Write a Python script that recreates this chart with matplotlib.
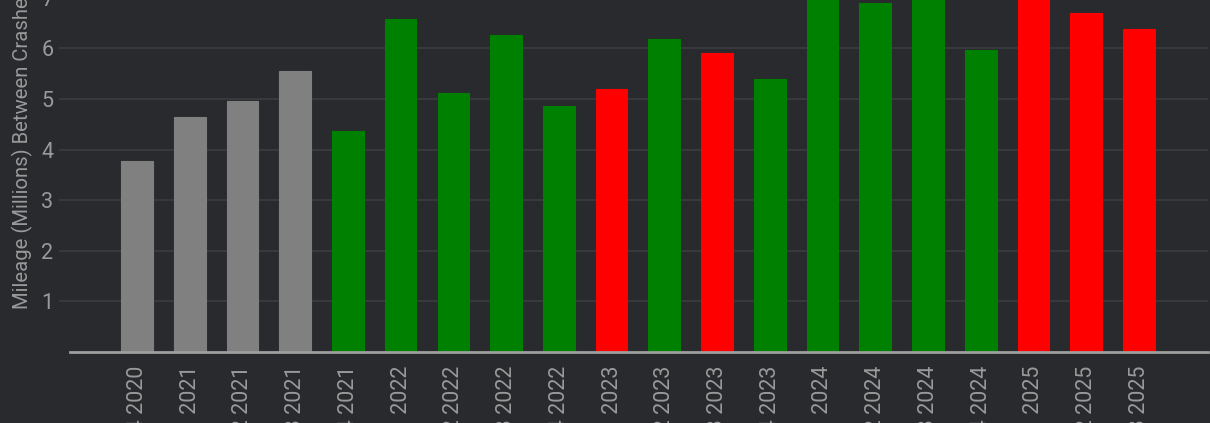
import matplotlib.pyplot as plt
import numpy as np

plt.rcParams['font.family'] = ['Roboto', 'DejaVu Sans']

# quarters and miles (millions) between crashes
quarters = ['Q4 2020', 'Q1 2021', 'Q2 2021', 'Q3 2021', 'Q4 2021',
            'Q1 2022', 'Q2 2022', 'Q3 2022', 'Q4 2022',
            'Q1 2023', 'Q2 2023', 'Q3 2023', 'Q4 2023',
            'Q1 2024', 'Q2 2024', 'Q3 2024', 'Q4 2024',
            'Q1 2025', 'Q2 2025', 'Q3 2025']
miles = [3.77, 4.64, 4.96, 5.55, 4.37,
         6.58, 5.12, 6.26, 4.86,
         5.20, 6.19, 5.91, 5.40,
         7.63, 6.90, 7.08, 5.97,
         7.44, 6.70, 6.38]
# g = gray, u = up (green), d = down (red)
status = ['g', 'g', 'g', 'g', 'u',
          'u', 'u', 'u', 'u',
          'd', 'u', 'd', 'u',
          'u', 'u', 'u', 'u',
          'd', 'd', 'd']
palette = {'g': '#808080', 'u': '#008000', 'd': '#ff0000'}

bg = '#292a2d'
text_col = '#9a9a9a'
grid_col = '#3c3d40'

fig = plt.figure(figsize=(12.1, 4.23), dpi=100, facecolor=bg)
# axes intentionally runs past the top of the figure (cropped view)
ax = fig.add_axes([70 / 1210, 71 / 423, 1138 / 1210, 404.8 / 423])
ax.set_facecolor(bg)

x = np.arange(len(quarters))
colors = [palette[s] for s in status]
ax.bar(x, miles, width=0.6, color=colors, edgecolor=colors, linewidth=0.8, zorder=3)

ax.set_xlim(-1.27, len(quarters) - 1 + 1.31)
ax.set_ylim(0, 8)
ax.set_yticks(range(1, 9))
ax.yaxis.grid(True, color=grid_col, linewidth=1.2, zorder=0)
ax.set_axisbelow(True)

ax.set_xticks(x)
ax.set_xticklabels(quarters, rotation=90, color=text_col, fontsize=15.5)
ax.tick_params(axis='x', length=0, pad=10)
ax.tick_params(axis='y', length=8, width=1.2, color=grid_col, labelcolor=text_col,
               labelsize=15.5, pad=4)

for side in ['top', 'right', 'left']:
    ax.spines[side].set_visible(False)
ax.spines['bottom'].set_color('#9e9e9e')
ax.spines['bottom'].set_linewidth(2)
ax.spines['bottom'].set_zorder(4)

# y title placed by hand so it is cut at the top like the reference
fig.text(22 / 1210, 1 - 309 / 423, 'Mileage (Millions) Between Crashes',
         rotation=90, ha='center', va='bottom', color=text_col, fontsize=14.6)

fig.savefig('out.png', dpi=100, facecolor=bg)
